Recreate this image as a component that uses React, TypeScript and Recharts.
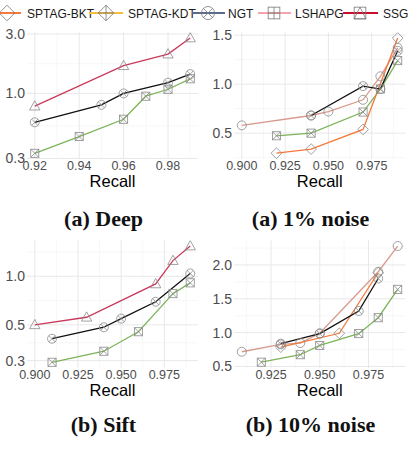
import React from "react";
import { LineChart, Line, XAxis, YAxis, CartesianGrid } from "recharts";

// legend
const legendNames = ["SPTAG-BKT", "SPTAG-KDT", "NGT", "LSHAPG", "SSG"];
const legendColors = ["#f4793b", "#f5be3c", "#5b6a88", "#f5a3b0", "#c8102e"];
const legendShapes = ["diamond", "diamondPlus", "circleX", "squarePlus", "squareTriangle"];

// (a) Deep
const deepRecallSSG = [0.92, 0.96, 0.98, 0.99];
const deepSSG = [0.79, 1.67, 2.07, 2.79];
const deepRecallNGT = [0.92, 0.95, 0.96, 0.98, 0.99];
const deepNGT = [0.586, 0.81, 1.0, 1.22, 1.43];
const deepRecallLSH = [0.92, 0.94, 0.96, 0.97, 0.98, 0.99];
const deepLSH = [0.33, 0.45, 0.62, 0.95, 1.08, 1.31];

// (a) 1% noise
const n1RecallKDT = [0.9, 0.94, 0.95, 0.97, 0.98, 0.99];
const n1KDT = [0.579, 0.68, 0.72, 0.84, 1.08, 1.37];
const n1RecallNGT = [0.94, 0.97, 0.98, 0.99];
const n1NGT = [0.68, 0.98, 0.95, 1.34];
const n1RecallLSH = [0.92, 0.94, 0.97, 0.98, 0.99];
const n1LSH = [0.473, 0.5, 0.715, 0.95, 1.24];
const n1RecallBKT = [0.92, 0.94, 0.97, 0.99];
const n1BKT = [0.295, 0.337, 0.538, 1.47];

// (b) Sift
const siftRecallSSG = [0.9, 0.93, 0.97, 0.98, 0.99];
const siftSSG = [0.5, 0.557, 0.896, 1.25, 1.54];
const siftRecallNGT = [0.91, 0.94, 0.95, 0.97, 0.99];
const siftNGT = [0.41, 0.483, 0.546, 0.695, 1.04];
const siftRecallLSH = [0.91, 0.94, 0.96, 0.98, 0.99];
const siftLSH = [0.293, 0.343, 0.453, 0.78, 0.91];

// (b) 10% noise
const n10RecallKDT = [0.91, 0.93, 0.94, 0.95, 0.98, 0.99];
const n10KDT = [0.717, 0.826, 0.846, 0.99, 1.9, 2.28];
const n10RecallNGT = [0.93, 0.95, 0.97, 0.98];
const n10NGT = [0.836, 0.985, 1.32, 1.8];
const n10RecallBKT = [0.93, 0.96, 0.98];
const n10BKT = [0.786, 0.99, 1.885];
const n10RecallLSH = [0.92, 0.94, 0.95, 0.97, 0.98, 0.99];
const n10LSH = [0.563, 0.673, 0.81, 0.985, 1.22, 1.64];

const RED = "#c93a5b";
const BLACK = "#111111";
const GREEN = "#7db45a";
const SALMON = "#d99a8e";
const ORANGE = "#f5793a";
const MARK = "#8a8a8a";
const SANS = "'Liberation Sans', Arial, sans-serif";

const zip = (xs: number[], ys: number[]) => xs.map((x, i) => ({ x, y: ys[i] }));

function Marker({ cx, cy, shape, r = 4.5, stroke = MARK }: any) {
  const p = { fill: "none", stroke, strokeWidth: 0.8 };
  switch (shape) {
    case "triangle":
      return <polygon {...p} points={`${cx},${cy - r * 1.2} ${cx - r * 1.15},${cy + r * 0.85} ${cx + r * 1.15},${cy + r * 0.85}`} />;
    case "diamond":
      return <polygon {...p} points={`${cx},${cy - r * 1.2} ${cx + r * 1.2},${cy} ${cx},${cy + r * 1.2} ${cx - r * 1.2},${cy}`} />;
    case "diamondPlus":
      return (
        <g {...p}>
          <polygon points={`${cx},${cy - r * 1.2} ${cx + r * 1.2},${cy} ${cx},${cy + r * 1.2} ${cx - r * 1.2},${cy}`} />
          <line x1={cx - r * 1.2} y1={cy} x2={cx + r * 1.2} y2={cy} />
          <line x1={cx} y1={cy - r * 1.2} x2={cx} y2={cy + r * 1.2} />
        </g>
      );
    case "circle":
      return <circle {...p} cx={cx} cy={cy} r={r} />;
    case "circleX": {
      const d = r * 0.707;
      return (
        <g {...p}>
          <circle cx={cx} cy={cy} r={r} />
          <line x1={cx - d} y1={cy - d} x2={cx + d} y2={cy + d} />
          <line x1={cx - d} y1={cy + d} x2={cx + d} y2={cy - d} />
        </g>
      );
    }
    case "squareX":
      return (
        <g {...p}>
          <rect x={cx - r * 0.9} y={cy - r * 0.9} width={r * 1.8} height={r * 1.8} />
          <line x1={cx - r * 0.9} y1={cy - r * 0.9} x2={cx + r * 0.9} y2={cy + r * 0.9} />
          <line x1={cx - r * 0.9} y1={cy + r * 0.9} x2={cx + r * 0.9} y2={cy - r * 0.9} />
        </g>
      );
    case "squarePlus":
      return (
        <g {...p}>
          <rect x={cx - r * 0.9} y={cy - r * 0.9} width={r * 1.8} height={r * 1.8} />
          <line x1={cx - r * 0.9} y1={cy} x2={cx + r * 0.9} y2={cy} />
          <line x1={cx} y1={cy - r * 0.9} x2={cx} y2={cy + r * 0.9} />
        </g>
      );
    case "squareTriangle":
      return (
        <g {...p}>
          <rect x={cx - r * 0.9} y={cy - r * 0.9} width={r * 1.8} height={r * 1.8} />
          <polygon points={`${cx},${cy - r * 0.9} ${cx - r * 0.9},${cy + r * 0.9} ${cx + r * 0.9},${cy + r * 0.9}`} />
        </g>
      );
    default:
      return null;
  }
}

type Series = { name: string; color: string; shape: string; data: { x: number; y: number }[] };

function Panel(props: {
  left: number; top: number; width: number; height: number;
  xDomain: number[]; xTicks: number[]; xMinor: number[]; xFmt: (v: number) => string;
  yDomain: number[]; yTicks: number[]; yMinor: number[]; log?: boolean;
  margin: { top: number; right: number; bottom: number; left: number };
  series: Series[];
}) {
  const { left, top, width, height, series, margin } = props;
  return (
    <div style={{ position: "absolute", left, top, width, height }}>
      <LineChart width={width} height={height} margin={margin}>
        <CartesianGrid horizontalValues={props.yMinor} verticalValues={props.xMinor} stroke="#f2f2f2" strokeWidth={0.6} />
        <CartesianGrid horizontalValues={props.yTicks} verticalValues={props.xTicks} stroke="#e8e8e8" strokeWidth={1} />
        <XAxis
          dataKey="x" type="number" domain={props.xDomain} allowDataOverflow ticks={props.xTicks}
          tickFormatter={props.xFmt} axisLine={false} tickLine={false} tickSize={0} tickMargin={2}
          height={28} interval={0}
          tick={{ fontSize: 12.5, fill: "#4d4d4d", fontFamily: SANS }}
          label={{ value: "Recall", position: "insideBottom", offset: 0, fontSize: 16.5, fill: "#000", fontFamily: SANS }}
        />
        <YAxis
          dataKey="y" type="number" scale={props.log ? "log" : "auto"} domain={props.yDomain} allowDataOverflow
          ticks={props.yTicks} tickFormatter={(v: number) => v.toFixed(1)} axisLine={false} tickLine={false}
          tickSize={0} tickMargin={2} width={27} interval={0}
          tick={{ fontSize: 14, fill: "#4d4d4d", fontFamily: SANS }}
        />
        {series.map((s) => (
          <Line
            key={s.name} name={s.name} data={s.data} dataKey="y" stroke={s.color} strokeWidth={1.3}
            isAnimationActive={false} activeDot={false}
            dot={(p: any) => <Marker key={`${s.name}-${p.index}`} cx={p.cx} cy={p.cy} shape={s.shape} />}
          />
        ))}
      </LineChart>
    </div>
  );
}

const fmt2 = (v: number) => v.toFixed(2);
const fmt3 = (v: number) => v.toFixed(3);

const titleStyle = (left: number, top: number): React.CSSProperties => ({
  position: "absolute", left, top, width: 207, textAlign: "center",
  fontFamily: "'Liberation Serif', 'DejaVu Serif', serif", fontWeight: 700, fontSize: 22, lineHeight: "24px", color: "#111",
});

function Legend() {
  const swatches = [
    { x1: -6, x2: 21, c: 7, tx: 27 },
    { x1: 89, x2: 123, c: 106, tx: 128 },
    { x1: 192, x2: 225, c: 208, tx: 228 },
    { x1: 258, x2: 291, c: 274, tx: 295 },
    { x1: 343, x2: 378, c: 360, tx: 383 },
  ];
  return (
    <svg width={415} height={24} style={{ position: "absolute", left: 0, top: 0 }}>
      {swatches.map((s, i) => (
        <g key={legendNames[i]}>
          <line x1={s.x1} x2={s.x2} y1={13} y2={13} stroke={legendColors[i]} strokeWidth={2} />
          <Marker cx={s.c} cy={13} shape={legendShapes[i]} r={6.5} stroke="#777" />
          <text x={s.tx} y={17.5} fontSize={12} fontFamily={SANS} fill="#1a1a1a">{legendNames[i]}</text>
        </g>
      ))}
    </svg>
  );
}

export default function App() {
  const topMargin = { top: 32.3, right: 9, bottom: 8, left: 0 };
  const botMargin = { top: 32.2, right: 9.5, bottom: 7, left: 0 };
  return (
    <div style={{ position: "absolute", left: 0, top: 0, width: 415, height: 455, background: "#fff", overflow: "hidden" }}>
      <Legend />
      <Panel
        left={0} top={0} width={207} height={195} margin={topMargin}
        xDomain={[0.9165, 0.9935]} xTicks={[0.92, 0.94, 0.96, 0.98]} xMinor={[0.93, 0.95, 0.97, 0.99]} xFmt={fmt2}
        yDomain={[0.297, 3.1]} yTicks={[0.3, 1, 3]} yMinor={[0.548, 1.732]} log
        series={[
          { name: "SSG", color: RED, shape: "triangle", data: zip(deepRecallSSG, deepSSG) },
          { name: "NGT", color: BLACK, shape: "circleX", data: zip(deepRecallNGT, deepNGT) },
          { name: "LSHAPG", color: GREEN, shape: "squareX", data: zip(deepRecallLSH, deepLSH) },
        ]}
      />
      <Panel
        left={207} top={0} width={208} height={195} margin={{ ...topMargin, right: 9.5 }}
        xDomain={[0.8955, 0.9945]} xTicks={[0.9, 0.925, 0.95, 0.975]} xMinor={[0.9125, 0.9375, 0.9625, 0.9875]} xFmt={fmt3}
        yDomain={[0.236, 1.529]} yTicks={[0.5, 1, 1.5]} yMinor={[0.25, 0.75, 1.25]}
        series={[
          { name: "SPTAG-KDT", color: SALMON, shape: "circle", data: zip(n1RecallKDT, n1KDT) },
          { name: "LSHAPG", color: GREEN, shape: "squareX", data: zip(n1RecallLSH, n1LSH) },
          { name: "SPTAG-BKT", color: ORANGE, shape: "diamond", data: zip(n1RecallBKT, n1BKT) },
          { name: "NGT", color: BLACK, shape: "circleX", data: zip(n1RecallNGT, n1NGT) },
        ]}
      />
      <Panel
        left={0} top={208} width={207} height={195} margin={{ ...botMargin, right: 9 }}
        xDomain={[0.8955, 0.9945]} xTicks={[0.9, 0.925, 0.95, 0.975]} xMinor={[0.9125, 0.9375, 0.9625, 0.9875]} xFmt={fmt3}
        yDomain={[0.27, 1.673]} yTicks={[0.3, 0.5, 1]} yMinor={[0.387, 0.707, 1.414]} log
        series={[
          { name: "SSG", color: RED, shape: "triangle", data: zip(siftRecallSSG, siftSSG) },
          { name: "NGT", color: BLACK, shape: "circleX", data: zip(siftRecallNGT, siftNGT) },
          { name: "LSHAPG", color: GREEN, shape: "squareX", data: zip(siftRecallLSH, siftLSH) },
        ]}
      />
      <Panel
        left={207} top={208} width={208} height={195} margin={botMargin}
        xDomain={[0.906, 0.994]} xTicks={[0.925, 0.95, 0.975]} xMinor={[0.9125, 0.9375, 0.9625, 0.9875]} xFmt={fmt3}
        yDomain={[0.477, 2.366]} yTicks={[0.5, 1, 1.5, 2]} yMinor={[0.75, 1.25, 1.75, 2.25]}
        series={[
          { name: "SPTAG-KDT", color: SALMON, shape: "circle", data: zip(n10RecallKDT, n10KDT) },
          { name: "LSHAPG", color: GREEN, shape: "squareX", data: zip(n10RecallLSH, n10LSH) },
          { name: "SPTAG-BKT", color: ORANGE, shape: "diamond", data: zip(n10RecallBKT, n10BKT) },
          { name: "NGT", color: BLACK, shape: "circleX", data: zip(n10RecallNGT, n10NGT) },
        ]}
      />
      <div style={titleStyle(0, 207)}>(a) Deep</div>
      <div style={titleStyle(207, 207)}>(a) 1% noise</div>
      <div style={titleStyle(0, 413)}>(b) Sift</div>
      <div style={titleStyle(207, 413)}>(b) 10% noise</div>
    </div>
  );
}
